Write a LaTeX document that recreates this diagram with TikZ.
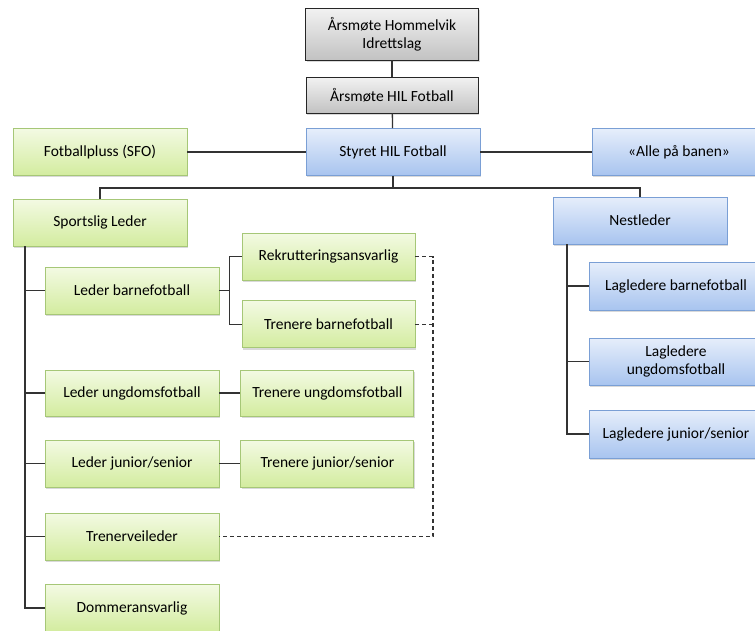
\documentclass[tikz,border=0pt]{standalone}
\usepackage{fontspec}
\setmainfont{Carlito}
\usepackage{tikz}
\usetikzlibrary{positioning, shadows, calc}
\definecolor{grtop}{HTML}{F3FAE3}
\definecolor{grbot}{HTML}{D3EC9F}
\definecolor{grline}{HTML}{A6C777}
\definecolor{bltop}{HTML}{E6EEFB}
\definecolor{blbot}{HTML}{A8C4EF}
\definecolor{blline}{HTML}{7A9FD5}
\definecolor{gytop}{HTML}{F2F2F2}
\definecolor{gybot}{HTML}{C2C2C2}
\definecolor{wire}{HTML}{333333}

\begin{document}
\begin{tikzpicture}[
  x=1pt, y=-1pt,
  box/.style={minimum width=174pt, minimum height=47pt, inner sep=2pt,
              align=center, font=\fontsize{15.5}{18}\selectfont,
              line width=0.9pt,
              drop shadow={shadow xshift=1.2pt, shadow yshift=-1.6pt, opacity=0.3}},
  gbox/.style={box, draw=grline, top color=grtop, bottom color=grbot},
  bbox/.style={box, draw=blline, top color=bltop, bottom color=blbot},
  ybox/.style={box, draw=black!85, top color=gytop, bottom color=gybot},
  link/.style={draw=wire, line width=1.3pt},
  dlink/.style={link, dashed, dash pattern=on 4pt off 3pt}
]
\useasboundingbox (0,0) rectangle (755,630);

% top of the tree
\node[ybox, minimum width=173pt, minimum height=52pt] (aarsil) at (392,34) {Årsmøte Hommelvik\\Idrettslag};
\node[ybox, minimum width=172pt, minimum height=36pt] (aarshil) at (392,95) {Årsmøte HIL Fotball};
\node[bbox] (styret) at (393,152) {Styret HIL Fotball};
\node[gbox] (sfo) at (100,152) {Fotballpluss (SFO)};
\node[bbox] (alle) at (679,152) {«Alle på banen»};

% sportslig side
\node[gbox] (sport) at (100,222.5) {Sportslig Leder};
\node[gbox] (lbarn) at (132,290.5) {Leder barnefotball};
\node[gbox, minimum width=173pt] (rekr) at (328.5,256.5) {Rekrutteringsansvarlig};
\node[gbox, minimum width=173pt, below=20pt of rekr] (tbarn) {Trenere barnefotball};
\node[gbox, minimum height=46pt] (lung) at (132,393) {Leder ungdomsfotball};
\node[gbox, minimum width=173pt, minimum height=46pt, right=21pt of lung] (tung) {Trenere ungdomsfotball};
\node[gbox] (ljun) at (132,463.5) {Leder junior/senior};
\node[gbox, minimum width=173pt, right=21pt of ljun] (tjun) {Trenere junior/senior};
\node[gbox] (tveil) at (132,536.5) {Trenerveileder};
\node[gbox] (domm) at (132,608) {Dommeransvarlig};

% nestleder side
\node[bbox] (nest) at (640,220.5) {Nestleder};
\node[bbox, minimum height=48pt] (lgbarn) at (676,286) {Lagledere barnefotball};
\node[bbox] (lgung) at (676,361.5) {Lagledere\\ungdomsfotball};
\node[bbox, minimum height=48pt] (lgjun) at (676,434) {Lagledere junior/senior};

\coordinate (bus) at (styret.south |- 0,188);
\coordinate (spine) at (25,0 |- sport.south);
\coordinate (nspine) at (567,0 |- nest.south);
\coordinate (fork) at ($(lbarn.east)+(10,0)$);
\coordinate (dash) at (433,0 |- tveil.east);

\draw[link] (aarsil) -- (aarshil);
\draw[link] (aarshil) -- (styret);
\draw[link] (sfo) -- (styret);
\draw[link] (styret) -- (alle);
\draw[link] (styret.south) -- (bus);
\draw[link] (sport.north) |- (bus) -| (nest.north);
\foreach \n in {lbarn, lung, ljun, tveil, domm} \draw[link] (spine) |- (\n.west);
\foreach \n in {lgbarn, lgung, lgjun} \draw[link] (nspine) |- (\n.west);
\draw[link] (lbarn.east) -- (fork);
\draw[link] (fork) |- (rekr.west);
\draw[link] (fork) |- (tbarn.west);
\draw[link] (lung) -- (tung);
\draw[link] (ljun) -- (tjun);
\draw[dlink] (rekr.east) -| (dash) -- (tveil.east);
\draw[dlink] (tbarn.east) -- (tbarn.east -| dash);
\end{tikzpicture}
\end{document}
